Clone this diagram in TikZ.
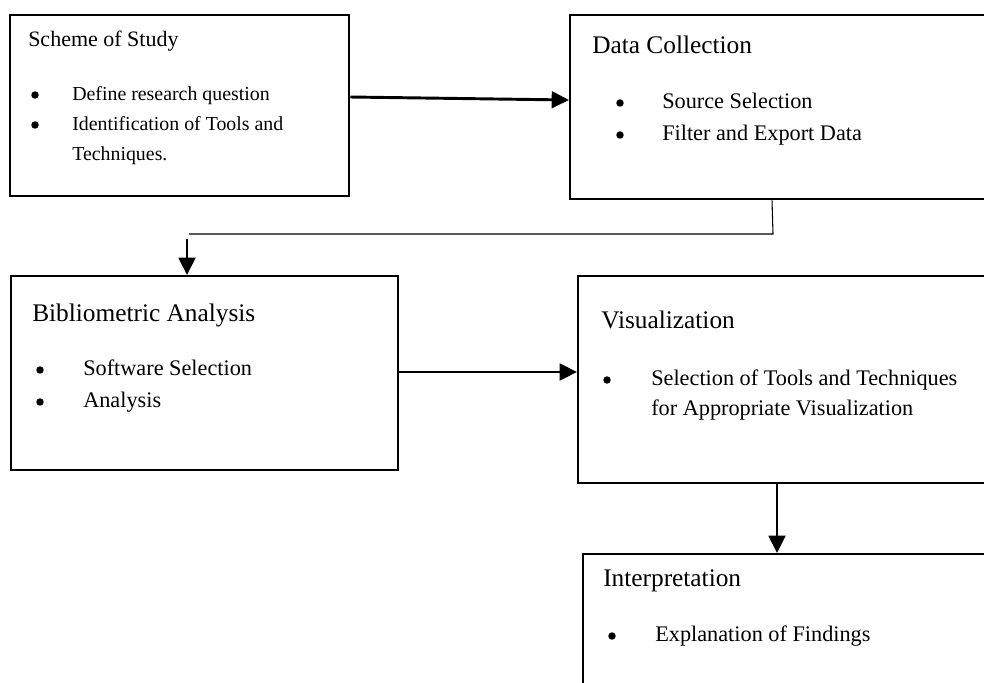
\documentclass[tikz,border=0pt]{standalone}
\usepackage{fontspec}
\setmainfont{Liberation Serif}
\usetikzlibrary{arrows.meta}
\begin{document}
\begin{tikzpicture}[x=0.75pt,y=-0.75pt,
  box/.style={draw, line width=1.7pt, inner sep=0pt, anchor=north west},
  ttl/.style={anchor=mid west, inner sep=0pt, font=\fontsize{19}{23}\selectfont},
  itm/.style={anchor=mid west, inner sep=0pt, font=\fontsize{16.7}{20}\selectfont},
  ttlA/.style={anchor=mid west, inner sep=0pt, font=\fontsize{16.5}{20}\selectfont},
  itmA/.style={anchor=mid west, inner sep=0pt, font=\fontsize{14.9}{18}\selectfont},
  dot/.style={circle, fill=black, inner sep=0pt, minimum size=5.6pt, yshift=1.5pt},
  arr/.style={line width=2.2pt, -{Triangle[length=13pt,width=12.5pt]}},
  thinline/.style={line width=0.8pt}]
\useasboundingbox (0,0) rectangle (984,682);
\clip (0,0) rectangle (984,682);
\fill[white] (0,0) rectangle (984,682);

% boxes
\node[box, minimum width=254.25pt, minimum height=135.75pt] (b1) at (9,14) {};
\node[box, minimum width=322.5pt, minimum height=138pt] (b2) at (569,14) {};
\node[box, minimum width=290.25pt, minimum height=145.5pt] (b3) at (10,275) {};
\node[box, minimum width=315pt, minimum height=155.25pt] (b4) at (577,275) {};
\node[box, minimum width=315pt, minimum height=112.5pt] (b5) at (582,553) {};

% box 1 text
\node[ttlA] (t1) at (28,43) {Scheme of Study};
\node[dot] (d1a) at (35,97) {};
\node[itmA] (i1a) at (72,97) {Define research question};
\node[dot] (d1b) at (35,127) {};
\node[itmA] (i1b) at (72,127) {Identification of Tools and};
\node[itmA] (i1c) at (72,157) {Techniques.};

% box 2 text
\node[ttl] (t2) at (592,50) {Data Collection};
\node[dot] (d2a) at (620,105) {};
\node[itm] (i2a) at (662,105) {Source Selection};
\node[dot] (d2b) at (620,137) {};
\node[itm] (i2b) at (662,137) {Filter and Export Data};

% box 3 text
\node[ttl] (t3) at (32,318) {Bibliometric Analysis};
\node[dot] (d3a) at (40,372) {};
\node[itm] (i3a) at (83,372) {Software Selection};
\node[dot] (d3b) at (40,404) {};
\node[itm] (i3b) at (83,404) {Analysis};

% box 4 text
\node[ttl] (t4) at (601,325) {Visualization};
\node[dot] (d4a) at (607,382) {};
\node[itm] (i4a) at (651,382) {Selection of Tools and Techniques};
\node[itm] (i4b) at (651,412) {for Appropriate Visualization};

% box 5 text
\node[ttl] (t5) at (603,583) {Interpretation};
\node[dot] (d5a) at (612,638) {};
\node[itm] (i5a) at (655,638) {Explanation of Findings};

% connectors
\draw[arr] (b1.east |- 0,97) -- (b2.west |- 0,100);
\coordinate (j1) at (773,234);
\coordinate (j2) at (189,234);
\coordinate (a0) at (187,239);
\draw[thinline] (772,0 |- b2.south) -- (j1) -- (j2);
\draw[arr] (a0) -- (187,0 |- b3.north);
\draw[arr] (b3.east |- 0,372) -- (b4.west |- 0,372);
\draw[arr] (777,0 |- b4.south) -- (777,0 |- b5.north);
\end{tikzpicture}
\end{document}
